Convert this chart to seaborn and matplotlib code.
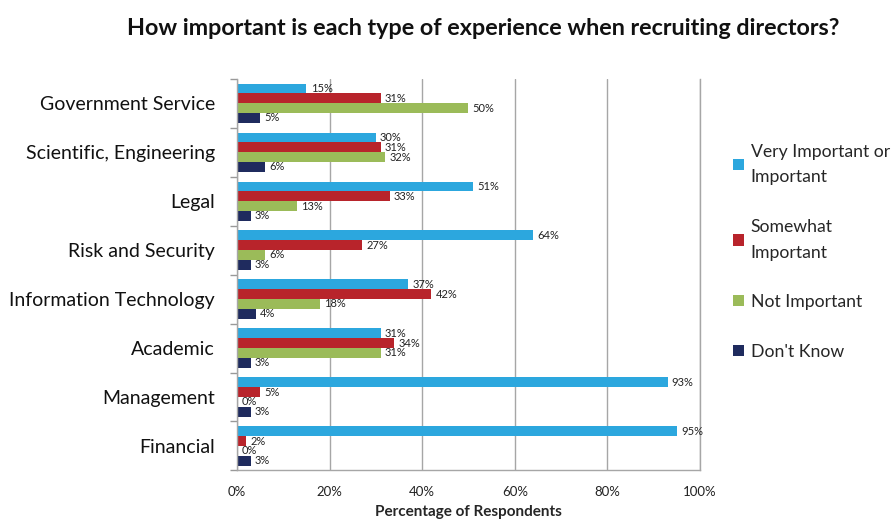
import matplotlib
matplotlib.use("Agg")
import matplotlib.pyplot as plt
import seaborn as sns
import pandas as pd
from matplotlib.patches import Patch
from matplotlib.ticker import FixedLocator

categories = ["Government Service", "Scientific, Engineering", "Legal", "Risk and Security",
              "Information Technology", "Academic", "Management", "Financial"]
series = ["Very Important or\nImportant", "Somewhat\nImportant", "Not Important", "Don't Know"]
very_important = [15, 30, 51, 64, 37, 31, 93, 95]
somewhat_important = [31, 31, 33, 27, 42, 34, 5, 2]
not_important = [50, 32, 13, 6, 18, 31, 0, 0]
dont_know = [5, 6, 3, 3, 4, 3, 3, 3]
colors = ["#2CA7DE", "#B8242B", "#9BBB59", "#1F2B5E"]
xticks = [0, 20, 40, 60, 80, 100]

sns.set_theme(style="white")
plt.rcParams['font.family'] = ['Lato', 'DejaVu Sans']

rows = []
for s, vals in zip(series, [very_important, somewhat_important, not_important, dont_know]):
    for c, v in zip(categories, vals):
        rows.append({"Category": c, "Series": s, "Value": v})
df = pd.DataFrame(rows)

fig = plt.figure(figsize=(8.91, 5.21), dpi=100)
ax = fig.add_axes([0.266, 0.097, 0.5196, 0.752])

sns.barplot(data=df, y="Category", x="Value", hue="Series", order=categories,
            hue_order=series, palette=colors, orient="h", width=0.8, ax=ax,
            errorbar=None, legend=False, saturation=1)

for cont in ax.containers:
    for p in cont.patches:
        p.set_edgecolor("none")
    ax.bar_label(cont, labels=[f"{int(round(v))}%" for v in cont.datavalues],
                 padding=3, fontsize=8, color="#222222")

ax.set_xlim(0, 100)
ax.set_ylim(len(categories) - 0.5, -0.5)
ax.set_xticks(xticks)
ax.set_xticklabels([f"{t}%" for t in xticks], fontsize=9.5, color="#222222")
ax.set_yticks(range(len(categories)))
ax.set_yticklabels(categories, fontsize=14, color="#111111")
ax.tick_params(axis="y", length=0, pad=16)
ax.tick_params(axis="x", length=5, color="#999999", direction="out", pad=6)
ax.yaxis.set_minor_locator(FixedLocator([i - 0.5 for i in range(len(categories) + 1)]))
ax.tick_params(axis="y", which="minor", length=5, color="#999999", direction="out", left=True)
ax.set_xlabel("Percentage of Respondents", fontsize=11, fontweight="bold", labelpad=5)
ax.set_ylabel("")
ax.grid(axis="x", color="#A6A6A6", linewidth=1)
ax.set_axisbelow(True)
for side in ["left", "bottom", "right"]:
    ax.spines[side].set_visible(True)
    ax.spines[side].set_color("#A6A6A6")
    ax.spines[side].set_linewidth(1)
ax.spines["top"].set_visible(False)

fig.text(0.542, 0.946, "How important is each type of experience when recruiting directors?",
         ha="center", va="center", fontsize=16.8, fontweight="bold", color="#111111")

handles = [Patch(facecolor=c, edgecolor="none") for c in colors]
leg = fig.legend(handles, series, loc="upper left", bbox_to_anchor=(0.815, 0.738), frameon=False,
                 fontsize=12.7, handlelength=0.6, handleheight=0.6, handletextpad=0.4,
                 labelspacing=1.9, borderaxespad=0)
for t in leg.get_texts():
    t.set_linespacing(1.75)

fig.savefig("out.png", dpi=100)
